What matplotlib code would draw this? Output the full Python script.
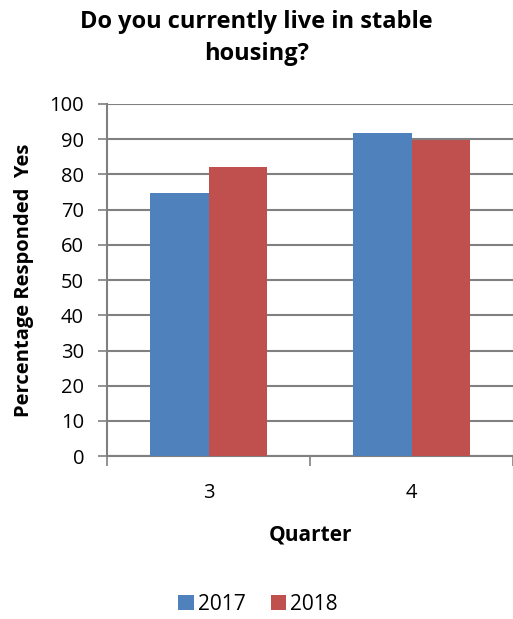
import matplotlib.pyplot as plt
import numpy as np

plt.rcParams['font.family'] = ['Open Sans', 'DejaVu Sans']

# ----- data -----
quarters = ["3", "4"]
years = ["2017", "2018"]
vals_2017 = [74.6, 91.7]
vals_2018 = [82.0, 89.7]
colors = ["#4F81BD", "#C0504D"]

fig = plt.figure(figsize=(5.13, 6.19), dpi=100)
ax = fig.add_axes([0.2086, 0.263, 0.7914, 0.569])

x = np.arange(len(quarters))
w = 0.286
ax.bar(x - w / 2, vals_2017, w, color=colors[0], label=years[0], zorder=3)
ax.bar(x + w / 2, vals_2018, w, color=colors[1], label=years[1], zorder=3)

ax.set_xlim(-0.5, 1.5)
ax.set_ylim(0, 100)
ax.set_yticks(range(0, 101, 10))
ax.set_xticks(x)
ax.set_xticklabels(quarters)
ax.set_xticks([-0.5, 0.5, 1.5], minor=True)
ax.tick_params(axis="x", which="major", length=0, pad=19, labelsize=14.5)
ax.tick_params(axis="x", which="minor", length=7, width=1.2, color="#808080")
ax.tick_params(axis="y", length=6.5, width=1.2, color="#808080", labelsize=14.5, pad=10)
ax.yaxis.grid(True, color="#808080", linewidth=1.5, zorder=0)

for s in ["top", "right"]:
    ax.spines[s].set_visible(False)
for s in ["left", "bottom"]:
    ax.spines[s].set_color("#808080")
    ax.spines[s].set_linewidth(1.5)

ax.set_ylabel("Percentage Responded  Yes", fontsize=14.5, fontweight="bold", labelpad=11)
ax.set_xlabel("Quarter", fontsize=15, fontweight="bold", labelpad=16)

fig.text(0.5, 0.939, "Do you currently live in stable\nhousing?", ha="center", va="center",
         fontsize=17, fontweight="bold", linespacing=1.45)

fig.legend(loc="center", bbox_to_anchor=(0.503, 0.024), ncol=2, frameon=False, fontsize=15,
           handlelength=0.75, handleheight=0.75, handletextpad=0.2, columnspacing=1.2)

fig.savefig("out.png", dpi=100)
